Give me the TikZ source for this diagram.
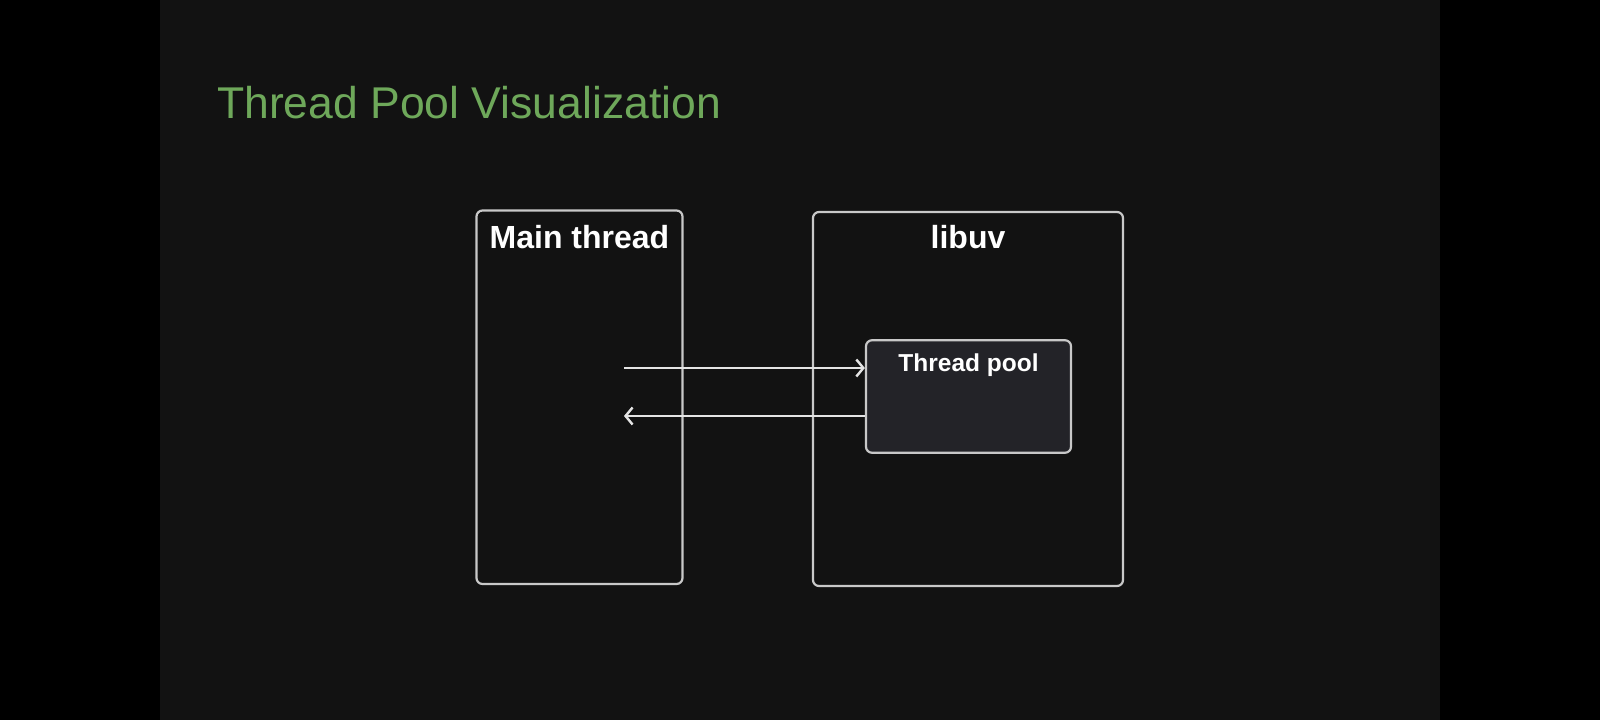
\documentclass[tikz,border=0pt]{standalone}
\usepackage{fontspec}
\setmainfont{Liberation Sans}
\usetikzlibrary{arrows.meta}
\definecolor{outerbg}{HTML}{000000}
\definecolor{slidebg}{HTML}{121212}
\definecolor{titlegreen}{HTML}{6EA85A}
\definecolor{boxline}{HTML}{C8C8C8}
\definecolor{poolfill}{HTML}{232328}
\definecolor{arrowcol}{HTML}{E4E4E4}
\tikzset{
  panel/.style={draw=boxline, line width=2.2pt, rounded corners=6pt, inner sep=0pt},
  poolbox/.style={draw=boxline, fill=poolfill, line width=2.2pt, rounded corners=6pt, inner sep=0pt},
  boxlabel/.style={text=white, font=\fontsize{32}{36}\selectfont\bfseries, anchor=base, inner sep=0pt},
  poollabel/.style={text=white, font=\fontsize{24.5}{28}\selectfont\bfseries, anchor=base, inner sep=0pt},
  titlelabel/.style={text=titlegreen, font=\fontsize{44.5}{50}\selectfont, anchor=base west, inner sep=0pt},
  flow/.style={draw=arrowcol, line width=2.6pt, -{Straight Barb[length=7pt,width=17pt,line width=2.4pt]}}
}
\begin{document}
\begin{tikzpicture}[x=1pt,y=-1pt]
\useasboundingbox (0,0) rectangle (1600,720);
\fill[outerbg] (0,0) rectangle (1600,720);
\fill[slidebg] (160,0) rectangle (1440,720);
\node[titlelabel] (title) at (217,118) {Thread Pool Visualization};
% boxes
\node[panel, minimum width=206pt, minimum height=373.5pt] (main) at (579.5,397.25) {};
\node[panel, minimum width=310pt, minimum height=374pt] (libuv) at (968,399) {};
\node[poolbox, minimum width=205pt, minimum height=112.5pt] (tp) at (968.5,396.5) {};
% labels
\node[boxlabel] (mainlabel) at (579.5,248) {Main thread};
\node[boxlabel] (libuvlabel) at (968,248) {libuv};
\node[poollabel] (tplabel) at (968.5,371.5) {Thread pool};
% arrows
\coordinate (outstart) at (624,368);
\coordinate (backend) at (624,416);
\draw[flow] (outstart) -- (outstart -| tp.west);
\draw[flow] (backend -| tp.west) -- (backend);
\end{tikzpicture}
\end{document}
